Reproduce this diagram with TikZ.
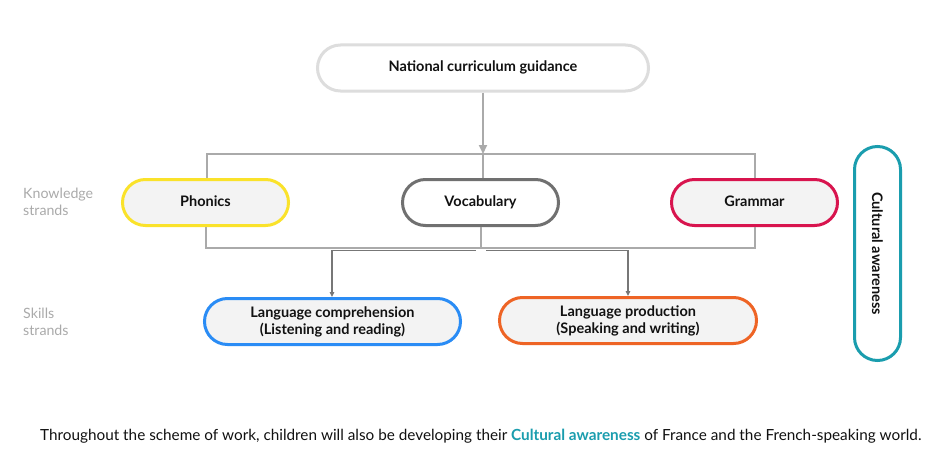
\documentclass[tikz,border=0pt]{standalone}
\usepackage{fontspec}
\setmainfont{Lato}
\usetikzlibrary{arrows.meta}
\definecolor{fillg}{HTML}{F3F3F3}
\definecolor{topb}{HTML}{DDDDDD}
\definecolor{vocb}{HTML}{707070}
\definecolor{phob}{HTML}{FAE22A}
\definecolor{grab}{HTML}{D8144E}
\definecolor{comb}{HTML}{2A8CF5}
\definecolor{prob}{HTML}{EE6425}
\definecolor{teal}{HTML}{1A9DAE}
\definecolor{brk}{HTML}{AAAAAA}
\definecolor{brn}{HTML}{777777}
\definecolor{lab}{HTML}{AAAAAA}
\definecolor{txt}{HTML}{111111}
\tikzset{
  pill/.style={draw, line width=3pt, rounded corners=23pt, minimum height=46pt,
    font=\fontsize{14.5}{17}\selectfont\bfseries, text=txt, align=center, inner sep=0pt},
  oneline/.style={text height=10.5pt, text depth=3.2pt},
  bracket/.style={draw=brk, line width=2pt},
  branch/.style={draw=brn, line width=1.3pt},
  sidelab/.style={text=lab, font=\fontsize{14.2}{17}\selectfont, align=left, anchor=west, inner sep=0pt},
}
\begin{document}
\begin{tikzpicture}[x=1pt,y=-1pt]
\useasboundingbox[fill=white] (0,0) rectangle (942,460);
\node[pill, oneline, draw=topb, fill=white, minimum width=331pt] (top) at (483,68) {National curriculum guidance};
\node[pill, oneline, draw=phob, fill=fillg, minimum width=166pt] (phon) at (205.5,202.5) {Phonics};
\node[pill, oneline, draw=vocb, fill=white, minimum width=156pt] (voc) at (480.5,202.5) {Vocabulary};
\node[pill, oneline, draw=grab, fill=fillg, minimum width=166pt] (gram) at (754.5,202.5) {Grammar};
\node[pill, draw=teal, fill=white, minimum width=46pt, minimum height=214pt] (cult) at (877.5,253.5) {};
\node[rotate=-90, font=\fontsize{14.5}{17}\selectfont\bfseries, text=txt] (cultt) at (cult.center) {Cultural awareness};
\node[pill, draw=comb, fill=fillg, minimum width=256pt] (comp) at (332.5,321.5) {Language comprehension\\(Listening and reading)};
\node[pill, draw=prob, fill=fillg, minimum width=257pt] (prod) at (628,320.5) {Language production\\(Speaking and writing)};

\node[sidelab] (kn) at (23,201.5) {Knowledge\\strands};
\node[sidelab] (sk) at (23,321.5) {Skills\\strands};

\coordinate (jt) at (483,154);
\coordinate (jb) at (480.5,248);
\coordinate (gl) at (476,250.5);
\coordinate (gr) at (486,250.5);

\draw[bracket] (phon.north -| 207,0) -- (207,154) -- (755,154) -- (gram.north -| 755,0);
\draw[bracket] (jt) -- (voc.north -| jt);
\draw[bracket, -{Triangle[width=8pt,length=9pt]}] (top.south -| jt) -- (jt);
\draw[bracket] (phon.south) -- (phon.south |- jb) -- (gram.south |- jb) -- (gram.south);
\draw[bracket] (voc.south) -- (jb);
\draw[branch, {Triangle[width=4.5pt,length=5pt]}-] (comp.north -| 332,0) -- (332,250.5) -- (gl);
\draw[branch, {Triangle[width=4.5pt,length=5pt]}-] (prod.north -| 628,0) -- (628,250.5) -- (gr);

\node[anchor=base west, inner sep=0pt, text=txt, font=\fontsize{15.3}{18}\selectfont] (foot) at (40,440)
 {Throughout the scheme of work, children will also be developing their \textcolor{teal}{\bfseries Cultural awareness} of France and the French-speaking world.};
\end{tikzpicture}
\end{document}
